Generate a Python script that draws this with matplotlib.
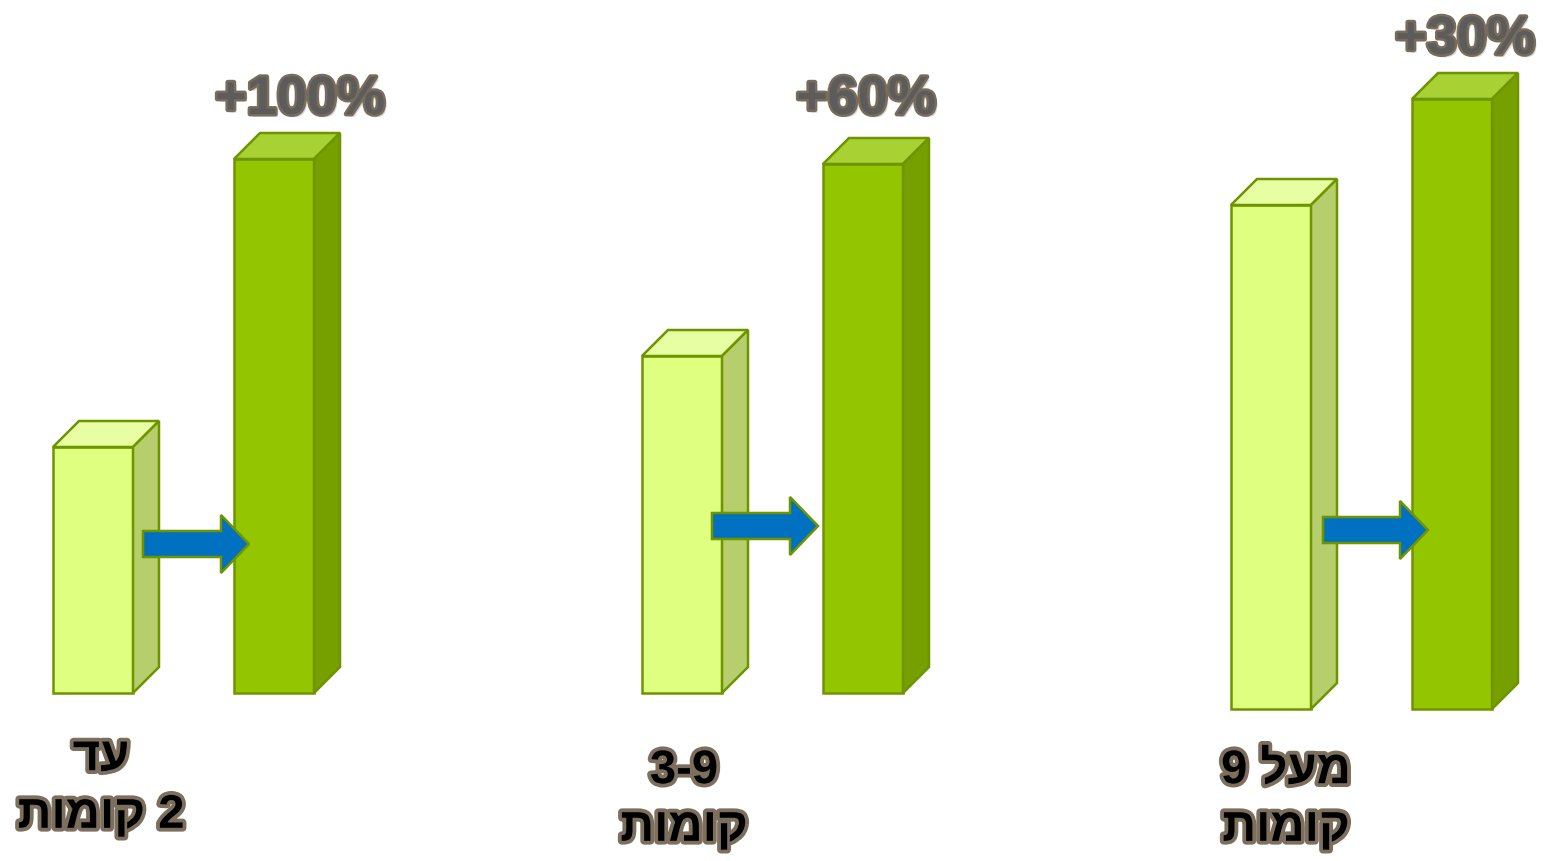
import matplotlib
matplotlib.use("Agg")
import matplotlib.pyplot as plt
from matplotlib.patches import Polygon, FancyArrow
import matplotlib.patheffects as pe

# ---- data ----
categories = ["עד\n2 קומות", "3-9\nקומות", "מעל 9\nקומות"]
before_values = [246, 337, 504]
after_values = [534, 529, 610]
pct_labels = ["+100%", "+60%", "+30%"]

# ---- layout (pixel-like units, y up) ----
W, H = 1544, 862
group_left = [53, 642, 1231]
baseline = [H - 694, H - 694, H - 710]
bar_w = 80
pair_gap = 181
depth = 26
arrow_start = [90, 70, 92]
arrow_end = [196, 176, 197]
arrow_y = [149, 167, 179]
pct_dx = [26, 3, 13]
pct_dy = [19, 24, 19]
label_dx = [8, 2, 15]
label_y = [H - 788, H - 801, H - 801]

light = dict(front="#DEFF80", top="#E7FFA2", side="#B6CE6C")
dark = dict(front="#94C600", top="#A8D233", side="#76A000")
edge = "#6E9400"

fig = plt.figure(figsize=(W / 100, H / 100), dpi=100)
ax = fig.add_axes([0, 0, 1, 1])
ax.set_xlim(0, W)
ax.set_ylim(0, H)
ax.axis("off")


def bar3d(x, b, h, c):
    ax.bar(x, h, width=bar_w, bottom=b, align="edge", color=c["front"],
           edgecolor=edge, linewidth=1.8, zorder=3)
    top = [(x, b + h), (x + bar_w, b + h), (x + bar_w + depth, b + h + depth), (x + depth, b + h + depth)]
    side = [(x + bar_w, b), (x + bar_w + depth, b + depth), (x + bar_w + depth, b + h + depth), (x + bar_w, b + h)]
    ax.add_patch(Polygon(top, closed=True, facecolor=c["top"], edgecolor=edge, lw=1.8, zorder=3, joinstyle="miter"))
    ax.add_patch(Polygon(side, closed=True, facecolor=c["side"], edgecolor=edge, lw=1.8, zorder=3, joinstyle="miter"))


def visual(s):
    out = []
    for line in s.split("\n"):
        words = line.split(" ")
        vis = []
        for w in reversed(words):
            if any("\u0590" <= ch <= "\u05FF" for ch in w):
                vis.append(w[::-1])
            else:
                vis.append(w)
        out.append(" ".join(vis))
    return "\n".join(out)


fonts = ["Liberation Sans", "DejaVu Sans"]
pct_fx = [pe.SimplePatchShadow(offset=(2, -2), shadow_rgbFace="#b8b8b8", alpha=0.6),
          pe.Stroke(linewidth=3.5, foreground="#7A6C5A"), pe.Normal()]
lab_fx = [pe.SimplePatchShadow(offset=(2, -2), shadow_rgbFace="#b0b0b0", alpha=0.6),
          pe.Stroke(linewidth=5.5, foreground="#7D6F5E"), pe.Normal()]

for i in range(3):
    xl = group_left[i]
    xd = xl + pair_gap
    b = baseline[i]
    bar3d(xl, b, before_values[i], light)
    bar3d(xd, b, after_values[i], dark)
    ay = b + arrow_y[i]
    ax.add_patch(FancyArrow(xl + arrow_start[i], ay, arrow_end[i] - arrow_start[i], 0,
                            width=26, head_width=58, head_length=28, length_includes_head=True,
                            facecolor="#0070C0", edgecolor=edge, lw=1.8, zorder=5))
    ax.text(xd + bar_w / 2 + pct_dx[i], b + after_values[i] + depth + pct_dy[i], pct_labels[i],
            ha="center", va="baseline", fontsize=39, fontweight="bold", family=fonts,
            color="#5C5C5C", path_effects=pct_fx, zorder=6)
    ax.text(xl + bar_w / 2 + label_dx[i], label_y[i], visual(categories[i]),
            ha="center", va="center", fontsize=34, fontweight="bold", family=fonts,
            color="black", path_effects=lab_fx, linespacing=1.4, zorder=6)

fig.savefig("out.png", dpi=100, facecolor="white")
